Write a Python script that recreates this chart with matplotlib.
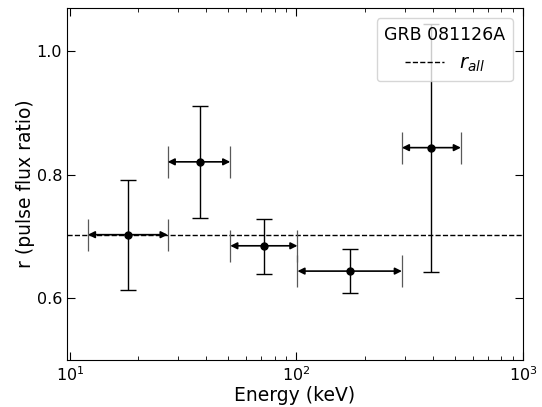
import matplotlib
matplotlib.use('Agg')
import matplotlib.pyplot as plt
import numpy as np

# energy bins (keV) and pulse flux ratio
e_lo = [12, 27, 51, 101, 292]
e_hi = [27, 51, 101, 292, 532]
e_mid = [18, 37.5, 72, 172, 393]
r = [0.703, 0.821, 0.685, 0.644, 0.844]
r_lo = [0.613, 0.730, 0.639, 0.608, 0.642]
r_hi = [0.792, 0.911, 0.728, 0.680, 1.045]
r_all = 0.702

e_mid = np.array(e_mid)
r = np.array(r)
yerr = [r - np.array(r_lo), np.array(r_hi) - r]

fig = plt.figure(figsize=(5.42, 4.07), dpi=100)
ax = fig.add_axes([0.1236, 0.1155, 0.8413, 0.8645])

ax.axhline(r_all, color='k', ls='--', lw=1, label=r'$r_{all}$')

# vertical error bars
ax.errorbar(e_mid, r, yerr=yerr, fmt='o', color='k', ms=5, lw=1,
            capsize=6, capthick=1, ecolor='k')

# bin-edge caps and arrows
for lo, hi, x, y in zip(e_lo, e_hi, e_mid, r):
    ax.errorbar([lo, hi], [y, y], yerr=0.026, fmt='none', ecolor='0.35',
                lw=0.9, capsize=0)
    for end in (lo, hi):
        ax.annotate('', xy=(end, y), xytext=(x, y),
                    arrowprops=dict(arrowstyle='-|>', color='k', lw=1.2,
                                    mutation_scale=10, shrinkA=0, shrinkB=0))

ax.set_xscale('log')
ax.set_xlim(9.7, 1000)
ax.set_ylim(0.5, 1.07)
ax.set_yticks([0.6, 0.8, 1.0])
ax.tick_params(which='both', direction='in', top=True, right=True,
               labelsize=11.5)
ax.tick_params(which='major', length=6)
ax.tick_params(which='minor', length=3)

ax.set_xlabel('Energy (keV)', fontsize=13.5, labelpad=2)
ax.set_ylabel('r (pulse flux ratio)', fontsize=13.5, labelpad=1.5)

leg = ax.legend(title='GRB 081126A', loc='upper right', fontsize=14,
                title_fontsize=12.5, handlelength=2)

fig.savefig('out.png', dpi=100)
